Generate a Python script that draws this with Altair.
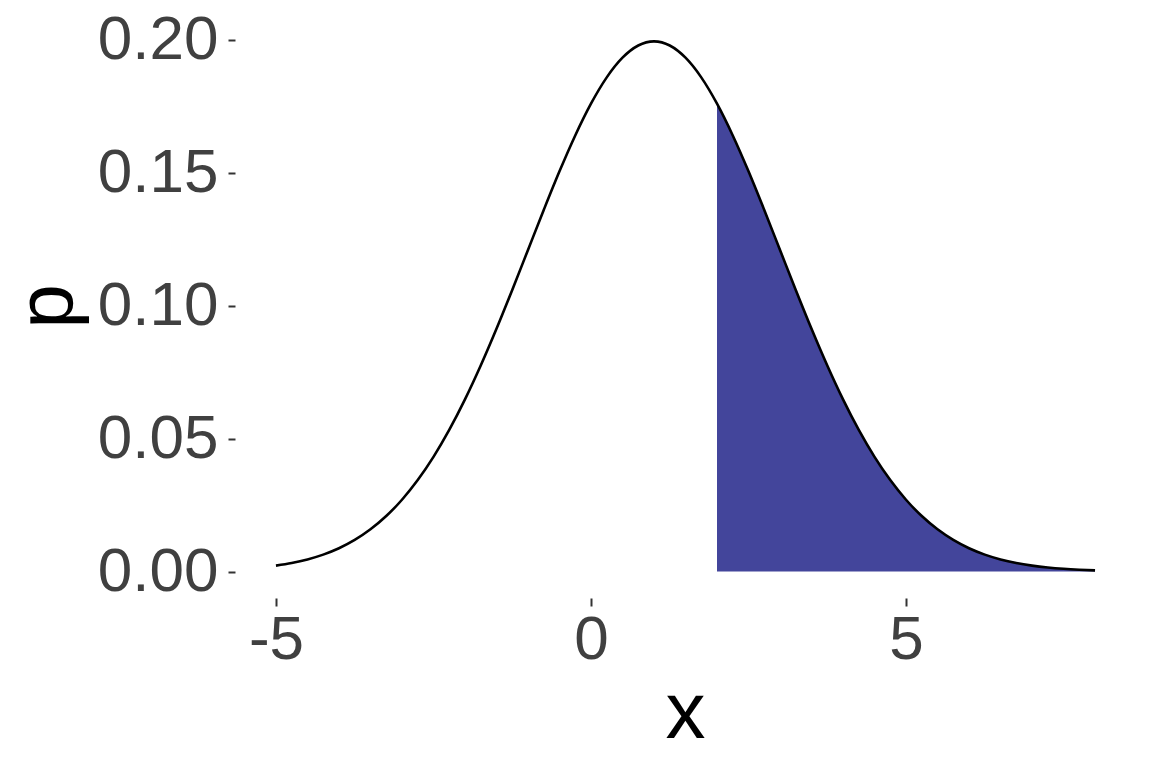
import altair as alt
import pandas as pd

# x grid
x_vals = [-5.0, -4.75, -4.5, -4.25, -4.0, -3.75, -3.5, -3.25, -3.0, -2.75, -2.5, -2.25,
          -2.0, -1.75, -1.5, -1.25, -1.0, -0.75, -0.5, -0.25, 0.0, 0.25, 0.5, 0.75,
          1.0, 1.25, 1.5, 1.75, 2.0, 2.25, 2.5, 2.75, 3.0, 3.25, 3.5, 3.75,
          4.0, 4.25, 4.5, 4.75, 5.0, 5.25, 5.5, 5.75, 6.0, 6.25, 6.5, 6.75,
          7.0, 7.25, 7.5, 7.75, 8.0]
p_vals = [0.00222, 0.00320, 0.00455, 0.00636, 0.00876, 0.01189, 0.01587, 0.02087,
          0.02700, 0.03440, 0.04314, 0.05327, 0.06476, 0.07751, 0.09132, 0.10594,
          0.12099, 0.13603, 0.15057, 0.16408, 0.17603, 0.18593, 0.19333, 0.19792,
          0.19947, 0.19792, 0.19333, 0.18593, 0.17603, 0.16408, 0.15057, 0.13603,
          0.12099, 0.10594, 0.09132, 0.07751, 0.06476, 0.05327, 0.04314, 0.03440,
          0.02700, 0.02087, 0.01587, 0.01189, 0.00876, 0.00636, 0.00455, 0.00320,
          0.00222, 0.00151, 0.00101, 0.00067, 0.00044]
shade_from = 2.0
x_ticks = [-5, 0, 5]
y_ticks = [0.00, 0.05, 0.10, 0.15, 0.20]

df = pd.DataFrame({"x": x_vals, "p": p_vals})
df_shade = df[df["x"] >= shade_from]

FONT = "Liberation Sans"
xscale = alt.Scale(domain=[-5.65, 8.65], nice=False, zero=False)
yscale = alt.Scale(domain=[-0.00997, 0.2094], nice=False, zero=False)

xaxis = alt.Axis(values=x_ticks, labelExpr="'' + datum.value", title="x",
                 labelBaseline="alphabetic", labelPadding=52, tickSize=8,
                 titleX=450, titleY=139, titleBaseline="alphabetic", titleAlign="center")
yaxis = alt.Axis(values=y_ticks, format=".2f", title="p",
                 labelBaseline="middle", labelPadding=10, tickSize=7,
                 titleX=-164, titleY=291, titleAngle=-90, titleBaseline="alphabetic",
                 titleAlign="center")

area = alt.Chart(df_shade).mark_area(color="#43459B", interpolate="monotone", opacity=1).encode(
    x=alt.X("x:Q", scale=xscale, axis=xaxis),
    y=alt.Y("p:Q", scale=yscale, axis=yaxis),
    y2=alt.datum(0),
)
line = alt.Chart(df).mark_line(color="black", strokeWidth=2.6, interpolate="monotone").encode(
    x=alt.X("x:Q", scale=xscale),
    y=alt.Y("p:Q", scale=yscale),
)

chart = (area + line).properties(
    width=901, height=583,
    autosize=alt.AutoSizeParams(type="none"),
    padding={"left": 227, "top": 7, "right": 8, "bottom": 155},
).configure_view(stroke=None).configure_axis(
    domain=False, grid=False,
    tickColor="#333333", tickWidth=2,
    labelColor="#404040", labelFont=FONT, labelFontSize=62,
    titleColor="black", titleFont=FONT, titleFontSize=80, titleFontWeight="normal",
)

chart.save("out.html", embed_options={"renderer": "svg", "actions": False})
